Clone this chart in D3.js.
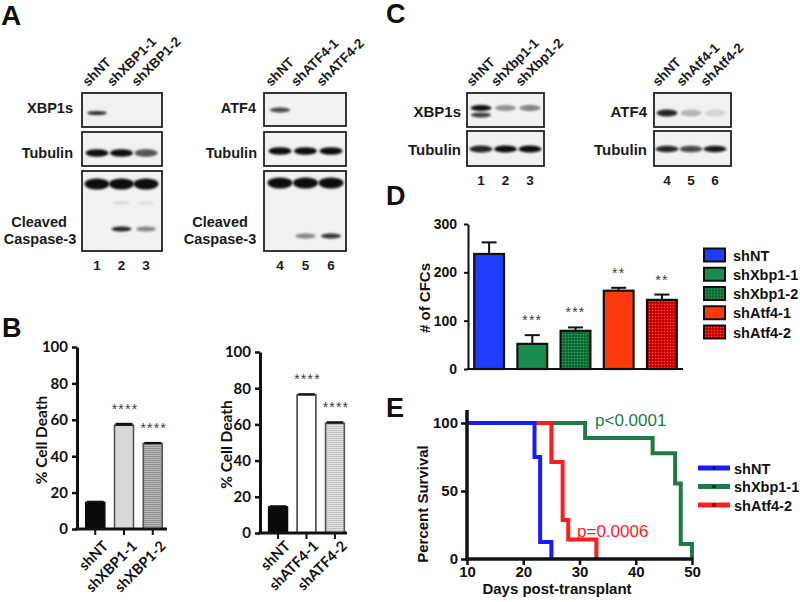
<!DOCTYPE html>
<html><head><meta charset="utf-8">
<script src="https://cdn.jsdelivr.net/npm/d3@7"></script>
<style>body{margin:0;background:#fff}</style>
</head><body>
<svg id="c" width="800" height="602"></svg>
<script>
// ---------------- DATA ----------------
// Panel A blots
const lanesA1 = ["shNT","shXBP1-1","shXBP1-2"];
const numsA1 = ["1","2","3"];
const xbp1sA1 = [0.85,0,0];
const tubulinA1 = [1,1,0.7];
const casp3FullA1 = [1,1,1];
const casp3FaintA1 = [0,0.12,0.08];
const casp3CleavedA1 = [0,0.9,0.45];
const lanesA2 = ["shNT","shATF4-1","shATF4-2"];
const numsA2 = ["4","5","6"];
const atf4A2 = [0.75,0,0];
const tubulinA2 = [1,1,1];
const casp3FullA2 = [1,1,1];
const casp3CleavedA2 = [0,0.5,0.85];
// Panel C blots
const lanesC1 = ["shNT","shXbp1-1","shXbp1-2"];
const numsC1 = ["1","2","3"];
const xbp1sC1 = [1,0.4,0.5];
const xbp1sLowerC1 = [0.8,0,0];
const tubulinC1 = [0.9,1,1];
const lanesC2 = ["shNT","shAtf4-1","shAtf4-2"];
const numsC2 = ["4","5","6"];
const atf4C2 = [0.9,0.25,0.12];
const tubulinC2 = [0.9,0.75,0.95];
// Panel B
const bTicks = [0,20,40,60,80,100];
const bXbpCats = ["shNT","shXBP1-1","shXBP1-2"];
const bXbpVals = [14.6,57,47];
const bXbpErr = [0.4,0.8,0.3];
const bXbpSig = ["","****","****"];
const bAtfCats = ["shNT","shATF4-1","shATF4-2"];
const bAtfVals = [14.4,76.3,60.6];
const bAtfErr = [0.4,0.4,0.6];
const bAtfSig = ["","****","****"];
// Panel D
const dTicks = [0,100,200,300];
const dCats = ["shNT","shXbp1-1","shXbp1-2","shAtf4-1","shAtf4-2"];
const dVals = [238,52,79,162,143];
const dErr = [24,18,7,6,11];
const dSig = ["","***","***","**","**"];
// Panel E
const eXTicks = [10,20,30,40,50];
const eYTicks = [0,50,100];
const eSeries = ["shNT","shXbp1-1","shAtf4-2"];
const eTimesNT = [10,22,23,25];
const eSurvNT = [100,75,12.5,0];
const eTimesXbp = [10,31,43,47,48,50];
const eSurvXbp = [100,88.9,77.8,55.6,11.1,0];
const eTimesAtf = [10,25,27,28,33];
const eSurvAtf = [100,71.4,28.6,14.3,0];
const ePvals = ["p<0.0001","p=0.0006"];

// ---------------- SETUP ----------------
const F = "'Liberation Sans', Arial, sans-serif";
const FB = "Lato, 'Open Sans', sans-serif";
const svg = d3.select("#c");
const defs = svg.append("defs");
const flt = defs.append("filter").attr("id","blur").attr("x","-50%").attr("y","-100%").attr("width","200%").attr("height","300%");
flt.append("feGaussianBlur").attr("stdDeviation",1.3);
function hatch(id, base, line){
  const p = defs.append("pattern").attr("id",id).attr("width",4).attr("height",2).attr("patternUnits","userSpaceOnUse");
  p.append("rect").attr("width",4).attr("height",2).attr("fill",base);
  p.append("rect").attr("width",4).attr("height",1).attr("fill",line);
}
hatch("hGray","#b8b8b8","#8e8e8e");
hatch("hLight","#e2e2e2","#c2c2c2");
function dots(id, base, dot){
  const p = defs.append("pattern").attr("id",id).attr("width",3).attr("height",3).attr("patternUnits","userSpaceOnUse");
  p.append("rect").attr("width",3).attr("height",3).attr("fill",base);
  p.append("circle").attr("cx",1.5).attr("cy",1.5).attr("r",0.8).attr("fill",dot);
}
dots("dGreen","#0c6a34","#3f9f64");
dots("dRed","#c80000","#ff4b3a");

// panel letters
[["A",1,25,28],["B",2,337,27],["C",386,23,27],["D",386,205,27],["E",386,417,27]].forEach(([t,x,y,s])=>{
  svg.append("text").attr("x",x).attr("y",y).attr("font-family",F).attr("font-weight","bold")
    .attr("font-size",s).attr("fill","#111").text(t);
});

// ---------------- BLOTS ----------------
function blot(opt){
  const g = svg.append("g");
  const lane = d3.scalePoint().domain(opt.lanes).range(opt.laneRange);
  g.selectAll("text.hdr").data(opt.lanes).enter().append("text").attr("class","hdr")
    .attr("transform", d=>`translate(${lane(d)-9},${opt.hdrY}) rotate(-45)`)
    .attr("font-family",F).attr("font-weight","bold").attr("font-size",13.5).attr("fill","#1a1a1a").text(d=>d);
  g.selectAll("text.num").data(opt.nums).enter().append("text").attr("class","num")
    .attr("x",(d,i)=>lane(opt.lanes[i])).attr("y",opt.numY).attr("text-anchor","middle")
    .attr("font-family",F).attr("font-weight","bold").attr("font-size",13.5).attr("fill","#1a1a1a").text(d=>d);
  opt.boxes.forEach(b=>{
    g.append("rect").attr("x",opt.x0).attr("y",b.y0).attr("width",opt.x1-opt.x0).attr("height",b.y1-b.y0)
      .attr("fill","#f1f1f1").attr("stroke","#222").attr("stroke-width",1.8);
    b.bands.forEach(bd=>{
      g.selectAll(null).data(bd.vals).enter().append("ellipse")
        .attr("cx",(v,i)=>lane(opt.lanes[i])).attr("cy",bd.y).attr("rx",bd.rx).attr("ry",bd.ry)
        .attr("fill","#0d0d0d").attr("fill-opacity",v=>v).attr("filter","url(#blur)");
    });
    b.labels.forEach(l=>{
      g.append("text").attr("x",l.x).attr("y",l.y).attr("text-anchor",l.anchor)
        .attr("font-family",F).attr("font-weight","bold").attr("font-size",l.size).attr("fill","#1a1a1a").text(l.t);
    });
  });
}
blot({lanes:lanesA1, nums:numsA1, laneRange:[97,146], x0:82, x1:162, hdrY:87, numY:270,
  boxes:[
    {y0:93,y1:127,bands:[{y:113,rx:10,ry:2,vals:xbp1sA1}],labels:[{t:"XBP1s",x:73,y:113,anchor:"end",size:14.5}]},
    {y0:132,y1:166,bands:[{y:153,rx:11.5,ry:3.8,vals:tubulinA1}],labels:[{t:"Tubulin",x:73,y:158,anchor:"end",size:14.5}]},
    {y0:171,y1:251,bands:[{y:184,rx:12.5,ry:5.5,vals:casp3FullA1},{y:203,rx:9,ry:1.5,vals:casp3FaintA1},{y:229,rx:10,ry:2.5,vals:casp3CleavedA1}],
      labels:[{t:"Cleaved",x:39,y:227,anchor:"middle",size:14.5},{t:"Caspase-3",x:40,y:244,anchor:"middle",size:14.5}]}
  ]});
blot({lanes:lanesA2, nums:numsA2, laneRange:[280,331], x0:264, x1:346, hdrY:87, numY:270,
  boxes:[
    {y0:93,y1:126,bands:[{y:110,rx:10,ry:2.5,vals:atf4A2}],labels:[{t:"ATF4",x:256,y:113,anchor:"end",size:14.5}]},
    {y0:132,y1:166,bands:[{y:151,rx:11.5,ry:3.8,vals:tubulinA2}],labels:[{t:"Tubulin",x:257,y:158,anchor:"end",size:14.5}]},
    {y0:171,y1:251,bands:[{y:183,rx:12.5,ry:5.5,vals:casp3FullA2},{y:236,rx:10,ry:2.5,vals:casp3CleavedA2}],
      labels:[{t:"Cleaved",x:220,y:227,anchor:"middle",size:14.5},{t:"Caspase-3",x:220,y:244,anchor:"middle",size:14.5}]}
  ]});
blot({lanes:lanesC1, nums:numsC1, laneRange:[481,530], x0:467, x1:544, hdrY:87, numY:185,
  boxes:[
    {y0:93,y1:127,bands:[{y:108,rx:10.5,ry:3,vals:xbp1sC1},{y:115,rx:10,ry:2.5,vals:xbp1sLowerC1}],labels:[{t:"XBP1s",x:461,y:117,anchor:"end",size:15}]},
    {y0:131,y1:166,bands:[{y:149,rx:11.5,ry:3.6,vals:tubulinC1}],labels:[{t:"Tubulin",x:461,y:155,anchor:"end",size:15}]}
  ]});
blot({lanes:lanesC2, nums:numsC2, laneRange:[667,715], x0:654, x1:731, hdrY:87, numY:185,
  boxes:[
    {y0:93,y1:127,bands:[{y:113,rx:10.5,ry:3.5,vals:atf4C2}],labels:[{t:"ATF4",x:647,y:117,anchor:"end",size:15}]},
    {y0:131,y1:166,bands:[{y:149,rx:11.5,ry:3.2,vals:tubulinC2}],labels:[{t:"Tubulin",x:647,y:155,anchor:"end",size:15}]}
  ]});

// ---------------- PANEL B ----------------
function barB(opt){
  const g = svg.append("g");
  const x = d3.scaleBand().domain(opt.cats).range(opt.bandRange).paddingInner(0.34).paddingOuter(0.2);
  const y = d3.scaleLinear().domain([0,100]).range([opt.yb,opt.yt]);
  const data = opt.cats.map((c,i)=>({c, v:opt.vals[i], e:opt.errs[i], s:opt.sig[i]}));
  g.selectAll("rect.bar").data(data).enter().append("rect")
    .attr("x",d=>x(d.c)).attr("y",d=>y(d.v)).attr("width",x.bandwidth()).attr("height",d=>y(0)-y(d.v))
    .attr("fill",(d,i)=>opt.fills[i]).attr("stroke",(d,i)=>opt.strokes[i]).attr("stroke-width",1.6);
  g.selectAll("rect.err").data(data).enter().append("rect")
    .attr("x",d=>x(d.c)+1).attr("y",d=>y(d.v+d.e)-1).attr("width",x.bandwidth()-2).attr("height",d=>Math.max(2.2,y(d.v-d.e)-y(d.v+d.e)))
    .attr("fill","#111");
  g.selectAll("text.sig").data(data).enter().append("text")
    .attr("x",d=>x(d.c)+x.bandwidth()/2+1).attr("y",d=>y(d.v+d.e)-10).attr("text-anchor","middle")
    .attr("font-family",F).attr("font-size",14).attr("letter-spacing",1.2).attr("fill","#3a3a3a").text(d=>d.s);
  const ya = g.append("g").attr("transform",`translate(${opt.ax},0)`)
    .call(d3.axisLeft(y).tickValues(bTicks).tickSize(5).tickSizeOuter(0).tickPadding(4));
  ya.select(".domain").attr("stroke","#111").attr("stroke-width",3);
  ya.selectAll(".tick line").attr("stroke","#111").attr("stroke-width",2.5);
  ya.selectAll("text").attr("font-family",FB).attr("font-weight","bold").attr("font-size",15).attr("fill","#111");
  const xa = g.append("g").attr("transform",`translate(0,${opt.yb})`)
    .call(d3.axisBottom(x).tickSize(6).tickSizeOuter(0));
  xa.select(".domain").remove();
  xa.selectAll(".tick line").attr("stroke","#111").attr("stroke-width",2);
  xa.selectAll("text").attr("x",0).attr("y",0).attr("dy",0).attr("text-anchor","end")
    .attr("transform",`translate(${opt.lx},${opt.ly}) rotate(-45)`)
    .attr("font-family",FB).attr("font-weight","bold").attr("font-size",14.5).attr("fill","#111");
  g.append("line").attr("x1",opt.ax-1.5).attr("x2",opt.xEnd).attr("y1",opt.yb).attr("y2",opt.yb)
    .attr("stroke","#111").attr("stroke-width",3);
  g.append("text").attr("transform",`translate(${opt.labX},${(opt.yb+opt.yt)/2+2}) rotate(-90)`)
    .attr("text-anchor","middle").attr("font-family",FB).attr("font-weight","bold").attr("font-size",15.5)
    .attr("fill","#111").text("% Cell Death");
}
barB({cats:bXbpCats, vals:bXbpVals, errs:bXbpErr, sig:bXbpSig,
  fills:["#0a0a0a","#d9d9d9","url(#hGray)"], strokes:["#0a0a0a","#555","#555"],
  bandRange:[80,168], yb:529, yt:347, ax:77, xEnd:167, lx:14, ly:18, labX:47});
barB({cats:bAtfCats, vals:bAtfVals, errs:bAtfErr, sig:bAtfSig,
  fills:["#0a0a0a","#ffffff","url(#hLight)"], strokes:["#0a0a0a","#444","#555"],
  bandRange:[263,350], yb:533, yt:352, ax:260, xEnd:347, lx:13, ly:14, labX:232});

// ---------------- PANEL D ----------------
(function(){
  const g = svg.append("g");
  const x = d3.scaleBand().domain(dCats).range([469,682]).paddingInner(0.31).paddingOuter(0.12);
  const y = d3.scaleLinear().domain([0,300]).range([369,224]);
  const fills = ["#1f3dff","#1a8c50","url(#dGreen)","#ff3a0a","url(#dRed)"];
  const data = dCats.map((c,i)=>({c, v:dVals[i], e:dErr[i], s:dSig[i], f:fills[i]}));
  g.selectAll("line.ev").data(data).enter().append("line")
    .attr("x1",d=>x(d.c)+x.bandwidth()/2).attr("x2",d=>x(d.c)+x.bandwidth()/2)
    .attr("y1",d=>y(d.v)).attr("y2",d=>y(d.v+d.e)).attr("stroke","#111").attr("stroke-width",2);
  g.selectAll("line.ec").data(data).enter().append("line")
    .attr("x1",d=>x(d.c)+x.bandwidth()/2-7.5).attr("x2",d=>x(d.c)+x.bandwidth()/2+7.5)
    .attr("y1",d=>y(d.v+d.e)).attr("y2",d=>y(d.v+d.e)).attr("stroke","#111").attr("stroke-width",2);
  g.selectAll("rect.bar").data(data).enter().append("rect")
    .attr("x",d=>x(d.c)).attr("y",d=>y(d.v)).attr("width",x.bandwidth()).attr("height",d=>y(0)-y(d.v))
    .attr("fill",d=>d.f).attr("stroke","#111").attr("stroke-width",2.2);
  g.selectAll("text.sig").data(data).enter().append("text")
    .attr("x",d=>x(d.c)+x.bandwidth()/2).attr("y",d=>y(d.v+d.e)-10).attr("text-anchor","middle")
    .attr("font-family",F).attr("font-size",14).attr("letter-spacing",1.2).attr("fill","#3a3a3a").text(d=>d.s);
  const ya = g.append("g").attr("transform","translate(468,0)")
    .call(d3.axisLeft(y).tickValues(dTicks).tickSize(4).tickSizeOuter(0).tickPadding(7));
  ya.select(".domain").attr("stroke","#111").attr("stroke-width",2);
  ya.selectAll(".tick line").attr("stroke","#111").attr("stroke-width",2);
  ya.selectAll("text").attr("font-family",F).attr("font-weight","bold").attr("font-size",14).attr("fill","#111");
  g.append("line").attr("x1",467).attr("x2",683).attr("y1",369).attr("y2",369).attr("stroke","#111").attr("stroke-width",2);
  g.append("text").attr("transform","translate(430,298) rotate(-90)").attr("text-anchor","middle")
    .attr("font-family",F).attr("font-weight","bold").attr("font-size",15).attr("fill","#111").text("# of CFCs");
  const ly = d3.scalePoint().domain(dCats).range([255,332]);
  const lg = g.selectAll("g.leg").data(data).enter().append("g").attr("transform",d=>`translate(704,${ly(d.c)})`);
  lg.append("rect").attr("x",0).attr("y",-6.5).attr("width",21).attr("height",13).attr("fill",d=>d.f).attr("stroke","#111").attr("stroke-width",2);
  lg.append("text").attr("x",29).attr("y",5.5).attr("font-family",F).attr("font-weight","bold").attr("font-size",14.5).attr("fill","#111").text(d=>d.c);
})();

// ---------------- PANEL E ----------------
(function(){
  const g = svg.append("g");
  const x = d3.scaleLinear().domain([10,50]).range([467,692]);
  const y = d3.scaleLinear().domain([0,100]).range([559,423]);
  const colors = ["#1a1aff","#1e7b45","#ff1c1c"];
  const series = [
    {name:eSeries[0], t:eTimesNT, s:eSurvNT, c:colors[0]},
    {name:eSeries[1], t:eTimesXbp, s:eSurvXbp, c:colors[1]},
    {name:eSeries[2], t:eTimesAtf, s:eSurvAtf, c:colors[2]}
  ];
  const line = d3.line().x(d=>x(d[0])).y(d=>y(d[1])).curve(d3.curveStepAfter);
  [series[1],series[2],series[0]].forEach(sr=>{
    g.append("path").attr("d",line(sr.t.map((t,i)=>[t,sr.s[i]]))).attr("fill","none")
      .attr("stroke",sr.c).attr("stroke-width",4).attr("stroke-linejoin","miter");
  });
  const ya = g.append("g").attr("transform","translate(467,0)")
    .call(d3.axisLeft(y).tickValues(eYTicks).tickSize(6).tickSizeOuter(0).tickPadding(3));
  ya.select(".domain").remove();
  ya.selectAll(".tick line").attr("stroke","#111").attr("stroke-width",2.5);
  ya.selectAll("text").attr("font-family",F).attr("font-weight","bold").attr("font-size",15).attr("fill","#111");
  const xa = g.append("g").attr("transform","translate(0,559)")
    .call(d3.axisBottom(x).tickValues(eXTicks).tickSize(6).tickSizeOuter(0).tickPadding(1));
  xa.select(".domain").remove();
  xa.selectAll(".tick line").attr("stroke","#111").attr("stroke-width",2.5);
  xa.selectAll("text").attr("font-family",F).attr("font-weight","bold").attr("font-size",15).attr("fill","#111");
  g.append("line").attr("x1",467).attr("x2",467).attr("y1",560.5).attr("y2",410).attr("stroke","#111").attr("stroke-width",3.5);
  g.append("line").attr("x1",465.5).attr("x2",693).attr("y1",559).attr("y2",559).attr("stroke","#111").attr("stroke-width",3.5);
  g.append("text").attr("transform","translate(428,504) rotate(-90)").attr("text-anchor","middle")
    .attr("font-family",F).attr("font-weight","bold").attr("font-size",15).attr("fill","#111").text("Percent Survival");
  g.append("text").attr("x",557).attr("y",594).attr("text-anchor","middle")
    .attr("font-family",F).attr("font-weight","bold").attr("font-size",15).attr("fill","#111").text("Days post-transplant");
  g.append("text").attr("x",595).attr("y",426).attr("font-family",F).attr("font-size",17).attr("fill",colors[1]).text(ePvals[0]);
  g.append("text").attr("x",577).attr("y",537).attr("font-family",F).attr("font-size",17).attr("fill",colors[2]).text(ePvals[1]);
  const ly = d3.scalePoint().domain(eSeries).range([468,505]);
  const lg = g.selectAll("g.leg").data(series).enter().append("g").attr("transform",d=>`translate(698,${ly(d.name)})`);
  lg.append("line").attr("x1",0).attr("x2",32).attr("y1",0).attr("y2",0).attr("stroke",d=>d.c).attr("stroke-width",5);
  lg.append("rect").attr("x",14.5).attr("y",-1.5).attr("width",3).attr("height",3).attr("fill","#111");
  lg.append("text").attr("x",36).attr("y",5.5).attr("font-family",F).attr("font-weight","bold").attr("font-size",14.5).attr("fill","#111").text(d=>d.name);
})();
</script>
</body></html>
